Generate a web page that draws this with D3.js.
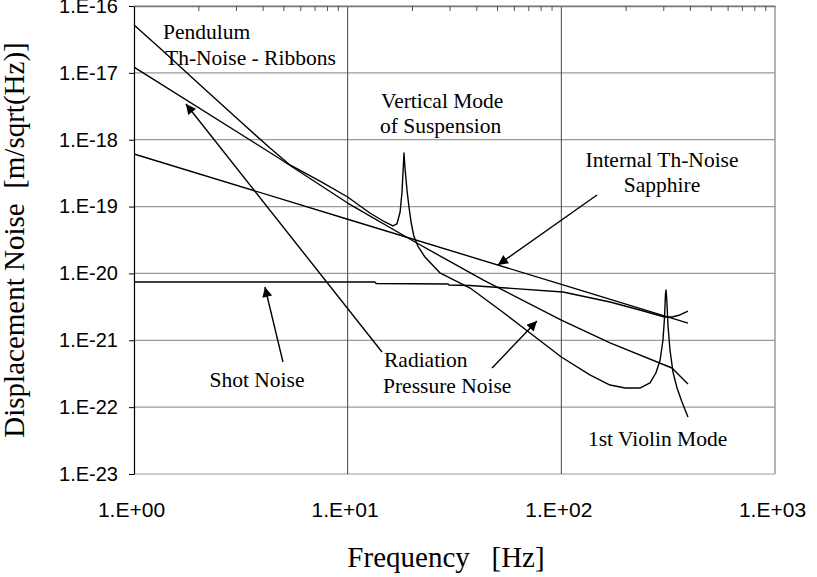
<!DOCTYPE html>
<html>
<head>
<meta charset="utf-8">
<script src="https://cdn.jsdelivr.net/npm/d3@7"></script>
<style>
	body { margin: 0; background: #fff; }
	svg { display: block; background: #fff; }
	.tick text { font-family: "Liberation Sans", Arial, sans-serif; font-size: 20px; fill: #000; }
	.xlab .tick text { font-size: 21px; }
	.note { font-family: "Liberation Serif", "Times New Roman", serif; font-size: 21.5px; fill: #000; }
	.title { font-family: "Liberation Serif", "Times New Roman", serif; font-size: 29px; fill: #000; white-space: pre; }
</style>
</head>
<body>
<svg id="chart" width="817" height="577"></svg>
<script>
	// Frequencies in Hz, noise in m/sqrt(Hz)
	var pendFreq = [1, 1.32, 2.04, 3.13, 4.33, 5.37, 7.42, 10, 12.7, 14.95, 16.3, 17.0, 17.6, 17.96, 18.16, 18.35,
		18.55, 18.95, 19.36, 19.8, 20.4, 21.3, 23.0, 27.0, 37.4, 51.6, 100, 136, 169, 199, 233, 260, 277, 290,
		299, 304, 307, 309, 311.6, 315.6, 322.5, 333, 348, 367, 391.5];
	var pendNoise = [5.2e-17, 2.35e-17, 6.58e-18, 1.9e-18, 7.52e-19, 4.19e-19, 2.41e-19, 1.39e-19, 8.02e-20, 5.88e-20,
		5.13e-20, 5.49e-20, 8.3e-20, 1.65e-19, 3.29e-19, 6.33e-19, 3.78e-19, 1.77e-19, 9.86e-20, 5.88e-20, 3.63e-20,
		2.57e-20, 1.76e-20, 1.02e-20, 6.05e-21, 2.84e-21, 5.62e-22, 3.03e-22, 2.14e-22, 1.93e-22, 1.93e-22, 2.3e-22,
		3.24e-22, 5.07e-22, 1.01e-21, 2.16e-21, 4.76e-21, 5.65e-21, 4.01e-21, 1.69e-21, 7.16e-22, 3.36e-22, 1.93e-22,
		1.19e-22, 7.13e-23];

	var radFreq = [1, 4.67, 10, 20.66, 43.0, 100, 169, 329.5, 391.5];
	var radNoise = [1.22e-17, 5.52e-19, 1.13e-19, 2.95e-20, 7.98e-21, 2.01e-21, 9.12e-22, 3.85e-22, 2.22e-22];

	var intFreq = [1, 10, 100, 391.5];
	var intNoise = [6.11e-19, 6.47e-20, 6.86e-21, 1.81e-21];

	var shotFreq = [1, 13.4, 13.6, 29.5, 29.8, 37.4, 101.8, 169, 233, 304, 330, 359, 391.5];
	var shotNoise = [7.44e-21, 7.44e-21, 7.07e-21, 6.95e-21, 6.72e-21, 6.6e-21, 5.28e-21, 3.74e-21, 2.84e-21,
		2.23e-21, 2.23e-21, 2.39e-21, 2.74e-21];

	var xTicks = [1, 10, 100, 1000];
	var yTicks = [1e-23, 1e-22, 1e-21, 1e-20, 1e-19, 1e-18, 1e-17, 1e-16];

	// arrows: [fromFreq, fromNoise, toFreq, toNoise]
	var arrows = [
		[14.48, 6.68e-22, 1.75, 3.42e-18],
		[47.4, 3.85e-22, 76.9, 1.95e-21],
		[4.98, 4.73e-22, 4.10, 6.27e-21],
		[146.9, 1.49e-19, 50.5, 1.34e-20]
	];

	var labels = [
		{text: 'Pendulum', x: 163, y: 39, anchor: 'start'},
		{text: 'Th-Noise - Ribbons', x: 165, y: 65, anchor: 'start'},
		{text: 'Vertical Mode', x: 381, y: 108, anchor: 'start'},
		{text: 'of Suspension', x: 380, y: 133, anchor: 'start'},
		{text: 'Internal Th-Noise', x: 662, y: 167, anchor: 'middle'},
		{text: 'Sapphire', x: 662, y: 192, anchor: 'middle'},
		{text: 'Shot Noise', x: 257, y: 387, anchor: 'middle'},
		{text: 'Radiation', x: 384, y: 367, anchor: 'start'},
		{text: 'Pressure Noise', x: 383, y: 393, anchor: 'start'},
		{text: '1st Violin Mode', x: 588, y: 446, anchor: 'start'}
	];

	var plot = {left: 134, right: 775, top: 6, bottom: 474};

	var svg = d3.select('#chart');

	var x = d3.scaleLog().domain([1, 1000]).range([plot.left, plot.right]);
	var y = d3.scaleLog().domain([1e-23, 1e-16]).range([plot.bottom, plot.top]);

	function fmt(d) {
		var e = Math.round(Math.log10(d));
		var s = String(Math.abs(e));
		if (s.length < 2) s = '0' + s;
		return '1.E' + (e < 0 ? '-' : '+') + s;
	}

	// horizontal grid (also makes top and bottom border)
	svg.append('g')
		.selectAll('line')
		.data(yTicks)
		.enter().append('line')
		.attr('x1', plot.left).attr('x2', plot.right)
		.attr('y1', function (d) { return y(d); })
		.attr('y2', function (d) { return y(d); })
		.attr('stroke', '#9a9a9a')
		.attr('stroke-width', 1.2);

	// vertical grid
	svg.append('g')
		.selectAll('line')
		.data(xTicks.slice(1))
		.enter().append('line')
		.attr('x1', function (d) { return x(d); })
		.attr('x2', function (d) { return x(d); })
		.attr('y1', plot.top).attr('y2', plot.bottom)
		.attr('stroke', function (d) { return d === 1000 ? '#9a9a9a' : '#444'; })
		.attr('stroke-width', function (d) { return d === 1000 ? 1.5 : 1; });

	// minor ticks along the top edge
	var minor = [];
	[1, 10, 100].forEach(function (dec) {
		for (var k = 2; k <= 9; k++) minor.push(k * dec);
	});
	svg.append('g')
		.attr('transform', 'translate(0,' + plot.top + ')')
		.call(d3.axisTop(x).tickValues(minor).tickSize(-5).tickSizeOuter(0).tickFormat(''))
		.call(function (g) {
			g.select('.domain').attr('stroke', '#777').attr('stroke-width', 1.5);
			g.selectAll('.tick line').attr('stroke', '#555');
		});

	// y axis
	svg.append('g')
		.attr('transform', 'translate(' + plot.left + ',0)')
		.call(d3.axisLeft(y).tickValues(yTicks).tickFormat(fmt).tickSize(5).tickSizeOuter(0).tickPadding(11))
		.call(function (g) {
			g.select('.domain').attr('stroke', '#000').attr('stroke-width', 1.2);
		});

	// x axis labels
	svg.append('g')
		.attr('class', 'xlab')
		.attr('transform', 'translate(0,' + plot.bottom + ')')
		.call(d3.axisBottom(x).tickValues(xTicks).tickFormat(fmt).tickSize(0).tickPadding(28))
		.call(function (g) {
			g.select('.domain').remove();
			g.selectAll('.tick text').attr('dx', -3);
		});

	var line = d3.line()
		.x(function (d) { return x(d[0]); })
		.y(function (d) { return y(d[1]); });

	var series = [
		d3.zip(shotFreq, shotNoise),
		d3.zip(intFreq, intNoise),
		d3.zip(radFreq, radNoise),
		d3.zip(pendFreq, pendNoise)
	];

	svg.append('g')
		.selectAll('path')
		.data(series)
		.enter().append('path')
		.attr('d', line)
		.attr('fill', 'none')
		.attr('stroke', '#000')
		.attr('stroke-width', 1.4)
		.attr('stroke-linejoin', 'round');

	// arrows
	svg.append('defs').append('marker')
		.attr('id', 'head')
		.attr('viewBox', '0 0 10 10')
		.attr('refX', 10).attr('refY', 5)
		.attr('markerWidth', 16).attr('markerHeight', 10)
		.attr('markerUnits', 'userSpaceOnUse')
		.attr('orient', 'auto')
		.append('path')
		.attr('d', 'M0,0L10,5L0,10Z')
		.attr('fill', '#000');

	svg.append('g')
		.selectAll('line')
		.data(arrows)
		.enter().append('line')
		.attr('x1', function (d) { return x(d[0]); })
		.attr('y1', function (d) { return y(d[1]); })
		.attr('x2', function (d) { return x(d[2]); })
		.attr('y2', function (d) { return y(d[3]); })
		.attr('stroke', '#000')
		.attr('stroke-width', 1.4)
		.attr('marker-end', 'url(#head)');

	svg.append('g')
		.selectAll('text')
		.data(labels)
		.enter().append('text')
		.attr('class', 'note')
		.attr('x', function (d) { return d.x; })
		.attr('y', function (d) { return d.y; })
		.attr('text-anchor', function (d) { return d.anchor; })
		.text(function (d) { return d.text; });

	// axis titles
	svg.append('text')
		.attr('class', 'title')
		.attr('x', 446).attr('y', 567)
		.attr('text-anchor', 'middle')
		.text('Frequency   [Hz]');

	svg.append('text')
		.attr('class', 'title')
		.attr('transform', 'translate(24,240) rotate(-90)')
		.attr('text-anchor', 'middle')
		.text('Displacement Noise  [m/sqrt(Hz)]');
</script>
</body>
</html>
